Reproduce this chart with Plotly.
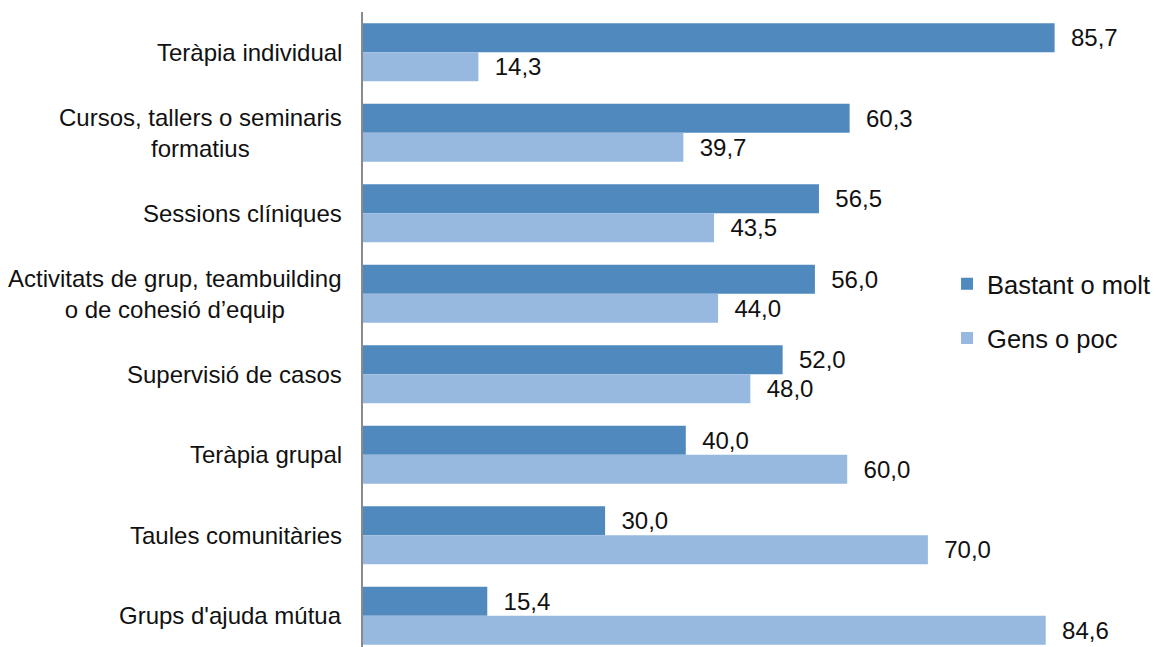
import plotly.graph_objects as go

# Survey categories, listed top to bottom
categories = [
    "Teràpia individual",
    "Cursos, tallers o seminaris<br>formatius",
    "Sessions clíniques",
    "Activitats de grup, teambuilding<br>o de cohesió d’equip",
    "Supervisió de casos",
    "Teràpia grupal",
    "Taules comunitàries",
    "Grups d'ajuda mútua",
]

series_names = ["Bastant o molt", "Gens o poc"]
bastant_o_molt = [85.7, 60.3, 56.5, 56.0, 52.0, 40.0, 30.0, 15.4]
gens_o_poc = [14.3, 39.7, 43.5, 44.0, 48.0, 60.0, 70.0, 84.6]

colors = ["#4F89BD", "#97B9E0"]
FONT = "Liberation Sans, Arial, sans-serif"
NB = "\u00a0\u00a0"  # small gap between bar end and its value

fig = go.Figure()
for i, (name, vals) in enumerate(zip(series_names, [bastant_o_molt, gens_o_poc])):
    fig.add_trace(go.Bar(
        y=list(range(len(categories))),
        x=vals,
        name=name,
        orientation="h",
        marker=dict(color=colors[i], line=dict(width=0)),
        texttemplate=NB + "%{x:.1f}",
        textposition="outside",
        constraintext="none",
        cliponaxis=False,
        textfont=dict(family=FONT, size=24, color="#111111"),
        legendgroup=f"g{i}",
        hoverinfo="skip",
    ))

# Category labels, centred on multiple lines
for j, cat in enumerate(categories):
    fig.add_annotation(
        x=0, xref="paper", y=j, yref="y",
        text=cat, showarrow=False,
        xanchor="right", yanchor="middle", align="center",
        xshift=-19,
        font=dict(family=FONT, size=24, color="#111111"),
    )

fig.update_layout(
    width=1160, height=647,
    margin=dict(l=363, r=0, t=12, b=0),
    paper_bgcolor="white", plot_bgcolor="white",
    barmode="group", bargap=0.28, bargroupgap=0,
    separators=",.",
    showlegend=True,
    legend=dict(
        x=0.7328, y=0.5287, xanchor="left", yanchor="middle",
        traceorder="grouped", tracegroupgap=18,
        font=dict(family=FONT, size=25.5, color="#111111"),
        bgcolor="rgba(0,0,0,0)",
    ),
    xaxis=dict(range=[0, 98.76], visible=False, fixedrange=True),
    yaxis=dict(
        range=[7.388, -0.5], showticklabels=False, showgrid=False,
        zeroline=False, showline=True, linecolor="#8A8A8A", linewidth=2,
        ticks="", fixedrange=True,
    ),
)

fig.write_html("out.html", config={"displayModeBar": False})
